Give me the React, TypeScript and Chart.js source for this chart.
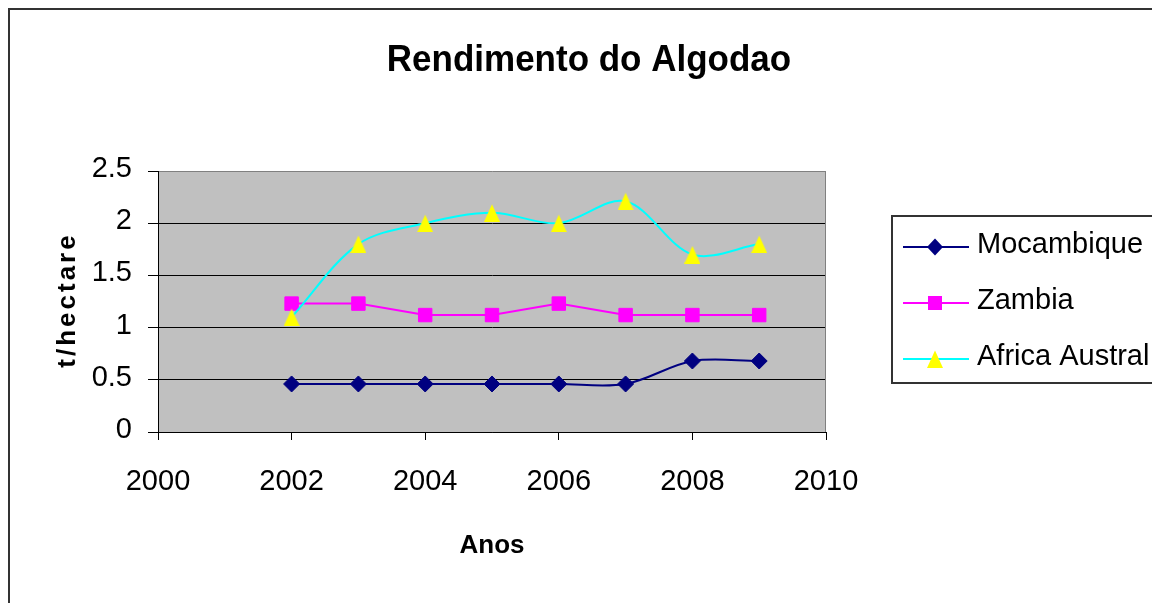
import React, { useEffect, useRef } from "react";
import { Chart, registerables } from "chart.js";

Chart.register(...registerables);

const years = [2002, 2003, 2004, 2005, 2006, 2007, 2008, 2009];
const mocambique = [0.46, 0.46, 0.46, 0.46, 0.46, 0.46, 0.68, 0.68];
const zambia = [1.23, 1.23, 1.12, 1.12, 1.23, 1.12, 1.12, 1.12];
const africaAustral = [1.1, 1.8, 2.0, 2.1, 2.0, 2.21, 1.7, 1.8];
const yTicks = [0, 0.5, 1, 1.5, 2, 2.5];
const xTicks = [2000, 2002, 2004, 2006, 2008, 2010];
const seriesNames = ["Mocambique", "Zambia", "Africa Austral"];
const chartTitle = "Rendimento do Algodao";
const xTitle = "Anos";
const yTitle = "t/hectare";

const FONT = "'Liberation Sans', Arial, sans-serif";
const NAVY = "#000080";
const MAGENTA = "#FF00FF";
const CYAN = "#00FFFF";
const YELLOW = "#FFFF00";

function makeTriangle(): HTMLCanvasElement {
  const c = document.createElement("canvas");
  c.width = 16;
  c.height = 18;
  const g = c.getContext("2d")!;
  g.fillStyle = YELLOW;
  g.beginPath();
  g.moveTo(8, 0.5);
  g.lineTo(16, 18);
  g.lineTo(0, 18);
  g.closePath();
  g.fill();
  return c;
}

function drawMarker(ctx: CanvasRenderingContext2D, kind: number, x: number, y: number, tri: HTMLCanvasElement) {
  ctx.save();
  if (kind === 0) {
    ctx.fillStyle = NAVY;
    ctx.beginPath();
    ctx.moveTo(x - 8, y);
    ctx.lineTo(x, y - 8.5);
    ctx.lineTo(x + 8, y);
    ctx.lineTo(x, y + 8.5);
    ctx.closePath();
    ctx.fill();
  } else if (kind === 1) {
    ctx.fillStyle = MAGENTA;
    ctx.fillRect(x - 7, y - 7, 14, 14);
  } else {
    ctx.drawImage(tri, Math.round(x - 8), Math.round(y - 9));
  }
  ctx.restore();
}

export default function App() {
  const ref = useRef<HTMLCanvasElement>(null);

  useEffect(() => {
    const canvas = ref.current!;
    const tri = makeTriangle();
    Chart.defaults.font.family = FONT;

    const decor = {
      id: "decor",
      beforeDraw(chart: any) {
        const { ctx, chartArea: a } = chart;
        ctx.save();
        ctx.fillStyle = "#ffffff";
        ctx.fillRect(0, 0, chart.width, chart.height);
        ctx.fillStyle = "#C0C0C0";
        ctx.fillRect(a.left, a.top, a.right - a.left, a.bottom - a.top);
        ctx.restore();
      },
      beforeDatasetsDraw(chart: any) {
        const { ctx, chartArea: a } = chart;
        ctx.save();
        ctx.strokeStyle = "#808080";
        ctx.lineWidth = 1;
        ctx.beginPath();
        ctx.moveTo(Math.round(a.right) - 0.5, a.top);
        ctx.lineTo(Math.round(a.right) - 0.5, a.bottom);
        ctx.stroke();
        ctx.restore();
      },
      afterDraw(chart: any) {
        const { ctx, chartArea: a } = chart;
        ctx.save();
        // outer border
        ctx.strokeStyle = "#333333";
        ctx.lineWidth = 2;
        ctx.beginPath();
        ctx.moveTo(9, chart.height + 5);
        ctx.lineTo(9, 9);
        ctx.lineTo(chart.width + 5, 9);
        ctx.stroke();

        // title
        ctx.fillStyle = "#000";
        ctx.textAlign = "center";
        ctx.textBaseline = "alphabetic";
        ctx.save();
        ctx.translate(589, 71);
        ctx.scale(1, 1.08);
        ctx.font = `bold 35px ${FONT}`;
        ctx.fillText(chartTitle, 0, 0);
        ctx.restore();

        // x title
        ctx.font = `bold 26px ${FONT}`;
        ctx.fillText(xTitle, (a.left + a.right) / 2, 553);

        // y title
        ctx.save();
        ctx.translate(75, 302);
        ctx.rotate(-Math.PI / 2);
        (ctx as any).letterSpacing = "3px";
        ctx.font = `bold 26px ${FONT}`;
        ctx.textAlign = "center";
        ctx.fillText(yTitle, 2, 0);
        ctx.restore();

        // legend
        ctx.strokeStyle = "#333333";
        ctx.lineWidth = 2;
        ctx.strokeRect(892, 216, 300, 167);
        const colors = [NAVY, MAGENTA, CYAN];
        const rows = [247, 303, 359];
        ctx.font = `29px ${FONT}`;
        ctx.textAlign = "left";
        ctx.textBaseline = "middle";
        for (let i = 0; i < seriesNames.length; i++) {
          const y = rows[i];
          ctx.strokeStyle = colors[i];
          ctx.lineWidth = 2;
          ctx.beginPath();
          ctx.moveTo(903, y);
          ctx.lineTo(969, y);
          ctx.stroke();
          drawMarker(ctx, i, 935, y, tri);
          ctx.fillStyle = "#000";
          ctx.fillText(seriesNames[i], 977, y - 2);
        }
        ctx.restore();
      },
    };

    const chart = new Chart(canvas, {
      type: "line",
      data: {
        datasets: [
          {
            label: seriesNames[0],
            data: years.map((x, i) => ({ x, y: mocambique[i] })),
            borderColor: NAVY,
            backgroundColor: NAVY,
            pointBackgroundColor: NAVY,
            pointBorderColor: NAVY,
            pointStyle: "rectRot",
            pointRadius: 8,
            pointBorderWidth: 1,
            borderWidth: 2,
            tension: 0.33,
            order: 3,
          },
          {
            label: seriesNames[1],
            data: years.map((x, i) => ({ x, y: zambia[i] })),
            borderColor: MAGENTA,
            backgroundColor: MAGENTA,
            pointBackgroundColor: MAGENTA,
            pointBorderColor: MAGENTA,
            pointStyle: "rect",
            pointRadius: 9.5,
            pointBorderWidth: 1,
            borderWidth: 2,
            tension: 0,
            order: 2,
          },
          {
            label: seriesNames[2],
            data: years.map((x, i) => ({ x, y: africaAustral[i] })),
            borderColor: CYAN,
            backgroundColor: YELLOW,
            pointStyle: tri as any,
            pointRadius: 9,
            borderWidth: 2,
            tension: 0.33,
            order: 1,
          },
        ],
      },
      options: {
        responsive: false,
        animation: false,
        devicePixelRatio: 1,
        layout: { padding: { left: 50, right: 326, top: 171, bottom: 101 } },
        plugins: {
          legend: { display: false },
          title: { display: false },
          tooltip: { enabled: false },
        },
        scales: {
          x: {
            type: "linear",
            min: 2000,
            max: 2010,
            afterBuildTicks: (s: any) => {
              s.ticks = xTicks.map((v) => ({ value: v }));
            },
            afterFit: (s: any) => {
              s.height = 70;
            },
            ticks: {
              color: "#000",
              font: { size: 29 },
              padding: 25,
              maxRotation: 0,
              autoSkip: false,
              callback: (v: any) => String(v),
            },
            grid: {
              drawOnChartArea: false,
              drawTicks: true,
              tickLength: 8,
              color: "#000",
              tickColor: "#000",
            },
            border: { display: true, color: "#000", width: 1 },
          },
          y: {
            type: "linear",
            min: 0,
            max: 2.5,
            afterBuildTicks: (s: any) => {
              s.ticks = yTicks.map((v) => ({ value: v }));
            },
            afterFit: (s: any) => {
              s.width = 108;
            },
            ticks: {
              color: "#000",
              font: { size: 29 },
              padding: 16,
              labelOffset: -2,
              callback: (v: any) => String(v),
            },
            grid: {
              drawTicks: true,
              tickLength: 10,
              color: (c: any) => (c.tick && c.tick.value === 2.5 ? "#808080" : "#000"),
              tickColor: "#000",
              lineWidth: 1,
            },
            border: { display: true, color: "#000", width: 1 },
          },
        },
      },
      plugins: [decor],
    });

    return () => chart.destroy();
  }, []);

  return (
    <div style={{ position: "absolute", left: 0, top: 0, width: 1152, height: 603 }}>
      <canvas ref={ref} width={1152} height={603} style={{ display: "block", width: 1152, height: 603 }} />
    </div>
  );
}
